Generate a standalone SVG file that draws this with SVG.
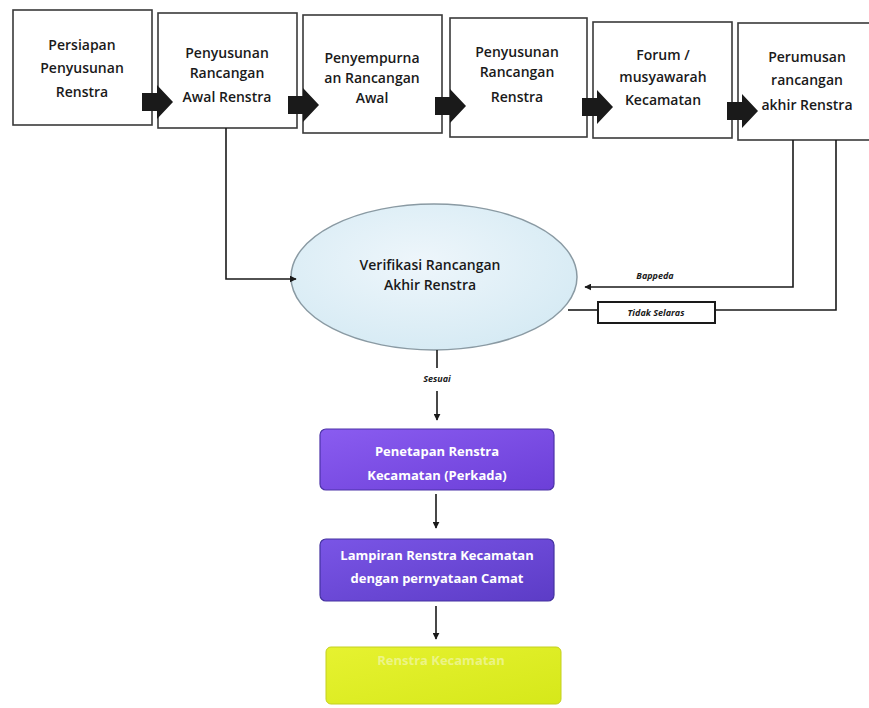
<svg xmlns="http://www.w3.org/2000/svg" width="869" height="708" viewBox="0 0 869 708">
<defs>
<style>
.box{fill:#ffffff;stroke:#3a3a3a;stroke-width:1.6}
.t{font-family:"Open Sans","Liberation Sans",sans-serif;font-weight:600;font-size:14px;fill:#1a1a1a;text-anchor:middle}
.w{font-family:"Open Sans","Liberation Sans",sans-serif;font-weight:700;font-size:13px;fill:#ffffff;text-anchor:middle}
.it{font-family:"Open Sans","Liberation Sans",sans-serif;font-weight:700;font-style:italic;font-size:9px;fill:#1a1a1a;text-anchor:middle}
.ln{fill:none;stroke:#1a1a1a;stroke-width:1.6}
.blk{fill:#1a1a1a}
</style>
<marker id="ah" viewBox="0 0 10 10" refX="9" refY="5" markerWidth="7" markerHeight="7" orient="auto" markerUnits="userSpaceOnUse">
<path d="M0,0 L10,5 L0,10 z" fill="#1a1a1a"/>
</marker>
<path id="blockArrow" d="M0,-9 L15,-9 L15,-17 L31,0 L15,17 L15,9 L0,9 z"/>
<radialGradient id="ellG" cx="0.45" cy="0.4" r="0.7">
<stop offset="0" stop-color="#eef6fb"/>
<stop offset="1" stop-color="#d3e9f3"/>
</radialGradient>
<linearGradient id="pG1" x1="0" y1="0" x2="1" y2="1">
<stop offset="0" stop-color="#8a5cf0"/>
<stop offset="1" stop-color="#6c3fd8"/>
</linearGradient>
<linearGradient id="pG2" x1="0" y1="0" x2="1" y2="1">
<stop offset="0" stop-color="#7a55e6"/>
<stop offset="1" stop-color="#5c3cc6"/>
</linearGradient>
<linearGradient id="yG" x1="0" y1="0" x2="1" y2="1">
<stop offset="0" stop-color="#e6f230"/>
<stop offset="1" stop-color="#d6e81a"/>
</linearGradient>
</defs>
<rect width="869" height="708" fill="#ffffff"/>

<g id="n1"><rect class="box" x="13" y="10" width="139" height="115"/>
<text class="t" x="82" y="50">Persiapan</text><text class="t" x="82" y="73">Penyusunan</text><text class="t" x="82" y="97">Renstra</text></g>
<g id="n2"><rect class="box" x="158" y="13" width="139" height="115"/>
<text class="t" x="227" y="58">Penyusunan</text><text class="t" x="227" y="78">Rancangan</text><text class="t" x="227" y="102">Awal Renstra</text></g>
<g id="n3"><rect class="box" x="303" y="15" width="139" height="118"/>
<text class="t" x="372" y="63">Penyempurna</text><text class="t" x="372" y="83">an Rancangan</text><text class="t" x="372" y="103">Awal</text></g>
<g id="n4"><rect class="box" x="450" y="18" width="137" height="119"/>
<text class="t" x="517" y="57">Penyusunan</text><text class="t" x="517" y="77">Rancangan</text><text class="t" x="517" y="102">Renstra</text></g>
<g id="n5"><rect class="box" x="593" y="22" width="139" height="116"/>
<text class="t" x="663" y="60">Forum /</text><text class="t" x="663" y="82">musyawarah</text><text class="t" x="663" y="105">Kecamatan</text></g>
<g id="n6"><rect class="box" x="738" y="23" width="140" height="117"/>
<text class="t" x="807" y="62">Perumusan</text><text class="t" x="807" y="85">rancangan</text><text class="t" x="807" y="110">akhir Renstra</text></g>

<g id="n7"><ellipse cx="434" cy="277" rx="143" ry="73" fill="url(#ellG)" stroke="#8a9aa3" stroke-width="1.5"/>
<text class="t" x="430" y="270">Verifikasi Rancangan</text><text class="t" x="430" y="290">Akhir Renstra</text></g>

<g id="n8"><rect x="598" y="302" width="117" height="21" fill="#ffffff" stroke="#1a1a1a" stroke-width="2"/>
<text class="it" x="656" y="316">Tidak Selaras</text></g>

<g id="n9"><rect x="320" y="429" width="234" height="61" rx="6" fill="url(#pG1)" stroke="#4c33a8" stroke-width="1.2"/>
<text class="w" x="437" y="456">Penetapan Renstra</text><text class="w" x="437" y="480">Kecamatan (Perkada)</text></g>
<g id="n10"><rect x="320" y="539" width="234" height="62" rx="6" fill="url(#pG2)" stroke="#4432a0" stroke-width="1.2"/>
<text class="w" x="437" y="560">Lampiran Renstra Kecamatan</text><text class="w" x="437" y="583">dengan pernyataan Camat</text></g>
<g id="n11"><rect x="326" y="647" width="235" height="57" rx="5" fill="url(#yG)" stroke="#c4d020" stroke-width="1"/>
<text class="w" x="441" y="665" fill-opacity="0.6" font-size="11" style="fill:#f4f8c8">Renstra Kecamatan</text></g>

<g id="connectors">
<use href="#blockArrow" class="blk" x="142" y="102"/>
<use href="#blockArrow" class="blk" x="288" y="105"/>
<use href="#blockArrow" class="blk" x="435" y="106"/>
<use href="#blockArrow" class="blk" x="582" y="107"/>
<use href="#blockArrow" class="blk" x="727" y="111"/>
<path class="ln" d="M226,128 L226,279 L296,279" marker-end="url(#ah)"/>
<path class="ln" d="M793,140 L793,287 L585,287" marker-end="url(#ah)"/>
<text class="it" x="655" y="279">Bappeda</text>
<path class="ln" d="M836,140 L836,310 L715,310"/>
<path class="ln" d="M598,310 L568,310"/>
<path class="ln" d="M437,350 L437,368"/>
<text class="it" x="437" y="382">Sesuai</text>
<path class="ln" d="M437,391 L437,420" marker-end="url(#ah)"/>
<path class="ln" d="M436,494 L436,528" marker-end="url(#ah)"/>
<path class="ln" d="M436,606 L436,639" marker-end="url(#ah)"/>
</g>
</svg>
